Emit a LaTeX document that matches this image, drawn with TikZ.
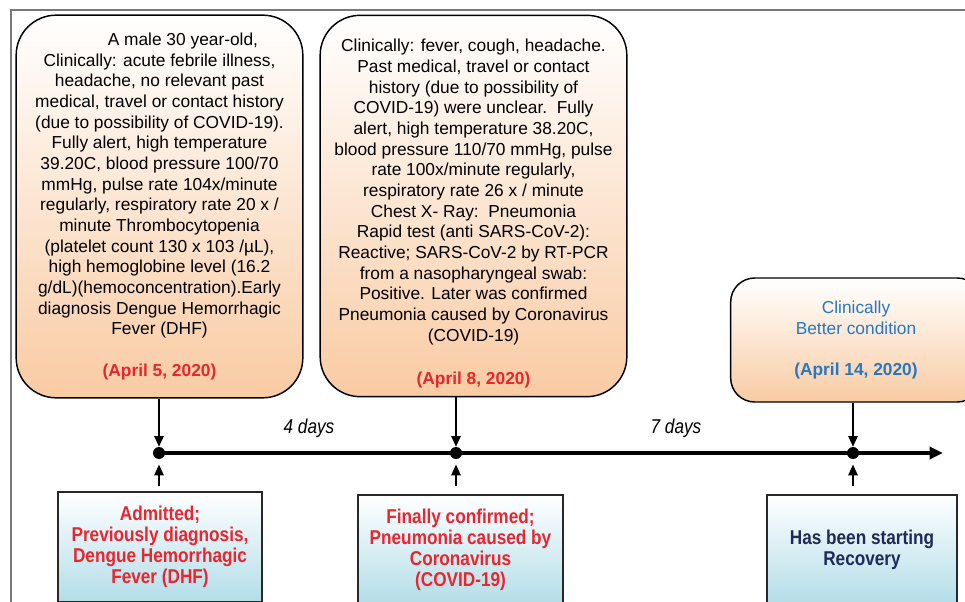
\documentclass[tikz,border=0pt]{standalone}
\usepackage{fontspec}
\setmainfont{Liberation Sans}
\newfontfamily\narrowfont[FakeStretch=0.86]{Liberation Sans}
\usepackage{tikz}
\usetikzlibrary{positioning,arrows.meta,calc}
\usepackage{xcolor}
\definecolor{peach}{RGB}{249,203,163}
\definecolor{skyblue}{RGB}{178,221,232}
\definecolor{datered}{RGB}{232,38,45}
\definecolor{recblue}{RGB}{38,120,192}
\definecolor{navy}{RGB}{31,42,90}
\definecolor{framegray}{RGB}{120,120,120}
\definecolor{edgegray}{RGB}{40,40,40}

\tikzset{
  eventbox/.style={rectangle,rounded corners=30pt,draw=black,line width=1.1pt,
    top color=white,middle color=peach!35,bottom color=peach,
    font=\fontsize{13}{15.5}\selectfont,align=center,inner sep=2pt},
  outcomebox/.style={rectangle,draw=edgegray,line width=1.4pt,
    top color=white,bottom color=skyblue,
    font=\narrowfont\bfseries\fontsize{15}{15.75}\selectfont,align=center},
  tick/.style={-{Triangle[length=8pt,width=7pt]},line width=1.1pt},
  timeline/.style={-{Triangle[length=10pt,width=9pt]},line width=3pt},
  dot/.style={circle,fill=black,inner sep=0pt,minimum size=9pt},
  gap/.style={font=\narrowfont\itshape\fontsize{15}{16}\selectfont}
}

\begin{document}
\begin{tikzpicture}[x=0.75pt,y=-0.75pt]
\clip (0,0) rectangle (965,602);
\fill[white] (0,0) rectangle (965,602);
\draw[framegray,line width=1.2pt] (11,605) -- (11,10) -- (970,10);

% events above the time line
\node[eventbox,minimum width=215pt,minimum height=287pt] (apr5) at (159.5,206.5) {
  \hspace*{2.7em}A male 30 year-old,\\
  Clinically: acute febrile illness,\\
  headache, no relevant past\\
  medical, travel or contact history\\
  (due to possibility of COVID-19).\\
  Fully alert, high temperature\\
  39.20C, blood pressure 100/70\\
  mmHg, pulse rate 104x/minute\\
  regularly, respiratory rate 20 x /\\
  minute Thrombocytopenia\\
  (platelet count 130 x 103 /µL),\\
  high hemoglobine level (16.2\\
  g/dL)(hemoconcentration).Early\\
  diagnosis Dengue Hemorrhagic\\
  Fever (DHF)\\[15.5pt]
  \textcolor{datered}{\textbf{(April 5, 2020)}}
};
\node[eventbox,minimum width=230pt,minimum height=286pt] (apr8) at (473.5,206) {
  \rule{0pt}{21pt}Clinically: fever, cough, headache.\\
  Past medical, travel or contact\\
  history (due to possibility of\\
  COVID-19) were unclear.\ \ Fully\\
  alert, high temperature 38.20C,\\
  blood pressure 110/70 mmHg, pulse\\
  rate 100x/minute regularly,\\
  respiratory rate 26 x / minute\\
  Chest X- Ray:\ \ Pneumonia\\
  Rapid test (anti SARS-CoV-2):\\
  Reactive; SARS-CoV-2 by RT-PCR\\
  from a nasopharyngeal swab:\\
  Positive. Later was confirmed\\
  Pneumonia caused by Coronavirus\\
  (COVID-19)\\[17pt]
  \textcolor{datered}{\textbf{(April 8, 2020)}}
};
\node[eventbox,rounded corners=18pt,minimum width=188pt,minimum height=93pt,
      text=recblue] (apr14) at (856,340) {
  Clinically\\
  Better condition\\[15.5pt]
  \textbf{(April 14, 2020)}
};

% time line
\node[dot] (d1) at (159,453) {};
\node[dot] (d2) at (456,453) {};
\node[dot] (d3) at (853,453) {};
\coordinate (tlend) at (943,453);
\draw[timeline] (d1.center) -- (tlend);

\node[gap] (days4) at (309,428) {4 days};
\node[gap] (days7) at (676,428) {7 days};

\draw[tick] (apr5.south -| d1) -- (d1.north);
\draw[tick] (apr8.south -| d2) -- (d2.north);
\draw[tick] (apr14.south -| d3) -- (d3.north);

% outcomes below the time line
\node[outcomebox,text=datered,minimum width=153pt,minimum height=82.5pt] (admit) at (160,547) {
  Admitted;\\
  Previously diagnosis,\\
  Dengue Hemorrhagic\\
  Fever (DHF)
};
\node[outcomebox,text=datered,minimum width=154pt,minimum height=82.5pt] (confirm) at (460.5,550) {
  Finally confirmed;\\
  Pneumonia caused by\\
  Coronavirus\\
  (COVID-19)
};
\node[outcomebox,text=navy,minimum width=142.5pt,minimum height=82.5pt] (recover) at (862,550) {
  Has been starting\\
  Recovery
};

\draw[tick] ([yshift=4pt]admit.north -| d1) -- ([yshift=-4pt]d1.south);
\draw[tick] ([yshift=6pt]confirm.north -| d2) -- ([yshift=-4pt]d2.south);
\draw[tick] ([yshift=6pt]recover.north -| d3) -- ([yshift=-4pt]d3.south);
\end{tikzpicture}
\end{document}
